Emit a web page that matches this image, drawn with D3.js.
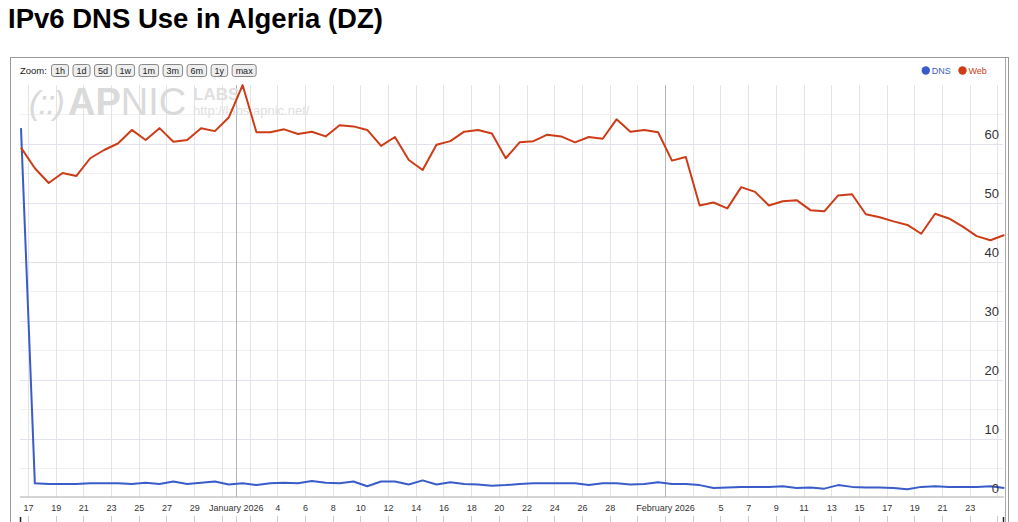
<!DOCTYPE html>
<html>
<head>
<meta charset="utf-8">
<script src="https://cdn.jsdelivr.net/npm/d3@7/dist/d3.min.js"></script>
<style>
body { margin:0; background:#fff; }
svg text { font-family: "Liberation Sans", Arial, sans-serif; }
</style>
</head>
<body>
<div id="chart"></div>
<script>
// daily points, first one at noon on Dec 16 2025
var firstDay = "2025-12-16T12:00:00Z";
var dnsValues = [62.6,
  2.4, 2.3, 2.3, 2.3, 2.4, 2.4, 2.4, 2.3, 2.5, 2.3,
  2.7, 2.3, 2.5, 2.7, 2.2, 2.4, 2.1, 2.4, 2.5, 2.4,
  2.8, 2.5, 2.4, 2.7, 1.9, 2.7, 2.7, 2.2, 2.9, 2.2,
  2.6, 2.3, 2.2, 2.0, 2.1, 2.3, 2.4, 2.4, 2.4, 2.4,
  2.1, 2.4, 2.4, 2.2, 2.3, 2.6, 2.3, 2.3, 2.1, 1.6,
  1.7, 1.8, 1.8, 1.8, 1.9, 1.6, 1.7, 1.5, 2.1, 1.8,
  1.7, 1.7, 1.6, 1.4, 1.8, 1.9, 1.8, 1.8, 1.8, 1.9,
  1.6];
var webValues = [59.3,
  55.8, 53.3, 55.0, 54.5, 57.5, 58.9, 60.0, 62.3, 60.6, 62.6,
  60.3, 60.6, 62.6, 62.1, 64.4, 69.9, 61.9, 61.9, 62.4, 61.6,
  62.0, 61.2, 63.1, 62.9, 62.3, 59.6, 61.1, 57.2, 55.5, 59.8,
  60.4, 62.0, 62.3, 61.7, 57.5, 60.2, 60.4, 61.5, 61.2, 60.2,
  61.1, 60.8, 64.1, 62.0, 62.3, 61.9, 57.1, 57.7, 49.5, 50.0,
  49.0, 52.6, 51.8, 49.5, 50.2, 50.4, 48.7, 48.5, 51.2, 51.4,
  48.0, 47.5, 46.8, 46.2, 44.7, 48.1, 47.3, 45.9, 44.3, 43.6,
  44.5];
var seriesNames = ["DNS", "Web"];
var seriesColors = ["#3a5cc9", "#cc3d17"];
var yTicks = [0, 10, 20, 30, 40, 50, 60];
var monthStarts = ["2026-01-01", "2026-02-01"];
var firstTick = "2025-12-17";
var zoomButtons = ["1h", "1d", "5d", "1w", "1m", "3m", "6m", "1y", "max"];
var title = "IPv6 DNS Use in Algeria (DZ)";

var W = 1018, H = 522;
var svg = d3.select("#chart").append("svg")
    .attr("width", W)
    .attr("height", H);

var dates = webValues.map(function(d, i){ return d3.utcDay.offset(new Date(firstDay), i); });
var last = dates[dates.length - 1];

var x = d3.scaleUtc()
    .domain([dates[0], last])
    .range([21, 1004.35]);
var y = d3.scaleLinear()
    .domain([0, 70])
    .range([497.5, 84.5]);

var plotLeft = 20, plotRight = 1004, plotTop = 85;

// title
svg.append("text")
    .attr("x", 8).attr("y", 28)
    .style("font-size", "27.5px")
    .style("font-weight", "bold")
    .attr("fill", "#000")
    .text(title);

// frame
svg.append("rect")
    .attr("x", 10.5).attr("y", 57.5)
    .attr("width", 998).attr("height", 480)
    .attr("fill", "none")
    .attr("stroke", "#999");
svg.append("line")
    .attr("x1", 1005.5).attr("x2", 1005.5)
    .attr("y1", 58).attr("y2", H)
    .attr("stroke", "#aaa");

// zoom bar
svg.append("text")
    .attr("x", 20).attr("y", 74)
    .style("font-size", "9.5px")
    .attr("fill", "#222")
    .text("Zoom:");

var bx = 51;
zoomButtons.forEach(function(b){
    var g = svg.append("g");
    var r = g.append("rect");
    var t = g.append("text")
        .attr("y", 74)
        .style("font-size", "9px")
        .attr("fill", "#222")
        .text(b);
    var tw = t.node().getComputedTextLength();
    r.attr("x", bx + 0.5).attr("y", 64.5)
        .attr("width", tw + 7).attr("height", 12)
        .attr("rx", 2.5)
        .attr("fill", "#eee")
        .attr("stroke", "#888");
    t.attr("x", bx + 4);
    bx += tw + 7 + 4.5;
});

// legend
var legX = [925.8, 962.5];
seriesNames.forEach(function(n, i){
    svg.append("circle")
        .attr("cx", legX[i]).attr("cy", 70.5).attr("r", 4.2)
        .attr("fill", seriesColors[i]);
    svg.append("text")
        .attr("x", legX[i] + 6).attr("y", 74)
        .style("font-size", "9px")
        .attr("fill", seriesColors[i])
        .text(n);
});

// ticks every 2 days
var allTicks = d3.utcDay.range(new Date(firstTick), d3.utcDay.offset(last, 1), 2);
var months = monthStarts.map(function(m){ return new Date(m); });
function nearMonth(d){
    return months.some(function(m){ return Math.abs(d - m) < 2.5 * 864e5; });
}
var labelTicks = allTicks.filter(function(d){ return !nearMonth(d) && x(d) < 985; });

// horizontal grid
var hGrid = d3.range(5, 70, 5);
svg.append("g").selectAll("line")
    .data(hGrid)
    .enter()
    .append("line")
    .attr("x1", plotLeft).attr("x2", 1003)
    .attr("y1", function(d){ return Math.round(y(d)) + 0.5; })
    .attr("y2", function(d){ return Math.round(y(d)) + 0.5; })
    .attr("stroke", function(d){ return d % 10 == 0 ? "#e2e2ee" : "#f0f0f0"; });

// vertical grid
svg.append("g").selectAll("line")
    .data(allTicks)
    .enter()
    .append("line")
    .attr("x1", function(d){ return Math.round(x(d)) + 0.5; })
    .attr("x2", function(d){ return Math.round(x(d)) + 0.5; })
    .attr("y1", plotTop).attr("y2", 497)
    .attr("stroke", "#e4e4e4");
svg.append("g").selectAll("line")
    .data(months)
    .enter()
    .append("line")
    .attr("x1", function(d){ return Math.round(x(d)) + 0.5; })
    .attr("x2", function(d){ return Math.round(x(d)) + 0.5; })
    .attr("y1", plotTop).attr("y2", 497)
    .attr("stroke", "#b4b4b4");

// watermark
var wm = svg.append("g").attr("fill", "#dadada");
wm.append("text")
    .attr("x", 29).attr("y", 114)
    .style("font-size", "33px")
    .style("font-style", "italic")
    .style("letter-spacing", "-1.5px")
    .text("(::)");
var ap = wm.append("text")
    .attr("x", 68).attr("y", 115)
    .style("font-size", "38px");
ap.append("tspan").style("font-weight", "bold").text("AP");
ap.append("tspan").text("NIC");
wm.append("text")
    .attr("x", 193).attr("y", 100)
    .style("font-size", "17px")
    .style("font-weight", "bold")
    .attr("fill", "#e0e0e0")
    .text("LABS");
wm.append("text")
    .attr("x", 193).attr("y", 115)
    .style("font-size", "13px")
    .attr("fill", "#e0e0e0")
    .text("http://labs.apnic.net/");

// x axis line
svg.append("line")
    .attr("x1", plotLeft).attr("x2", plotRight)
    .attr("y1", 497).attr("y2", 497)
    .attr("stroke", "#aaa");

// lines
var line = d3.line()
    .x(function(d, i){ return x(dates[i]); })
    .y(function(d){ return y(d); });

[dnsValues, webValues].forEach(function(vals, k){
    svg.append("path")
        .datum(vals)
        .attr("d", line)
        .attr("fill", "none")
        .attr("stroke", seriesColors[k])
        .attr("stroke-width", 2)
        .attr("stroke-linejoin", "round");
});

// y labels
var yAxis = svg.append("g")
    .attr("transform", "translate(999,0)")
    .call(d3.axisLeft(y).tickValues(yTicks).tickSize(0).tickPadding(0));
yAxis.select(".domain").remove();
yAxis.selectAll("text")
    .attr("dy", -5)
    .style("font-size", "13px")
    .style("font-family", "\"Liberation Sans\", Arial, sans-serif")
    .attr("fill", "#333");

// x labels
var xAxis = svg.append("g")
    .attr("transform", "translate(0,497)")
    .call(d3.axisBottom(x).tickValues(labelTicks.concat(months))
        .tickFormat(function(d){
            return nearMonth(d) ? d3.utcFormat("%B %Y")(d) : d3.utcFormat("%-d")(d);
        })
        .tickSize(0).tickPadding(0));
xAxis.select(".domain").remove();
xAxis.selectAll("text")
    .attr("y", 14)
    .attr("dy", 0)
    .style("font-size", "9px")
    .style("font-family", "\"Liberation Sans\", Arial, sans-serif")
    .attr("fill", "#333");

// range selector ticks at the bottom
svg.append("g").selectAll("line")
    .data(allTicks.concat(months))
    .enter()
    .append("line")
    .attr("x1", function(d){ return Math.round(x(d)) + 0.5; })
    .attr("x2", function(d){ return Math.round(x(d)) + 0.5; })
    .attr("y1", 516).attr("y2", H)
    .attr("stroke", "#ccc");
svg.append("g").selectAll("line")
    .data([dates[0], last])
    .enter()
    .append("line")
    .attr("x1", function(d){ return Math.round(x(d)) - 0.5; })
    .attr("x2", function(d){ return Math.round(x(d)) - 0.5; })
    .attr("y1", 517).attr("y2", H)
    .attr("stroke", "#222")
    .attr("stroke-width", 1.5);
</script>
</body>
</html>
